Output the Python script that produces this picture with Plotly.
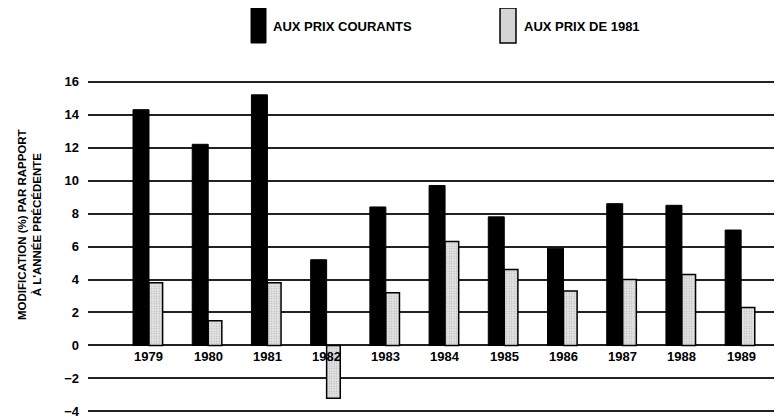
import plotly.graph_objects as go

years = ["1979", "1980", "1981", "1982", "1983", "1984", "1985", "1986", "1987", "1988", "1989"]
prix_courants = [14.3, 12.2, 15.2, 5.2, 8.4, 9.7, 7.8, 5.9, 8.6, 8.5, 7.0]
prix_1981 = [3.8, 1.5, 3.8, -3.2, 3.2, 6.3, 4.6, 3.3, 4.0, 4.3, 2.3]
y_ticks = [-4, -2, 0, 2, 4, 6, 8, 10, 12, 14, 16]
legend_labels = ["AUX PRIX COURANTS", "AUX PRIX DE 1981"]
y_title = "MODIFICATION (%) PAR RAPPORT<br>À L'ANNÉE PRÉCÉDENTE"

FONT = "Liberation Sans, Arial, Helvetica, sans-serif"
BOLD = dict(family=FONT, size=13, color="black", weight="bold")

fig = go.Figure()
fig.add_trace(go.Bar(
    x=years, y=prix_courants, name=legend_labels[0],
    offset=-0.27, width=0.27,
    marker=dict(color="black", line=dict(color="black", width=1)),
    showlegend=False,
))
fig.add_trace(go.Bar(
    x=years, y=prix_1981, name=legend_labels[1],
    offset=0.0, width=0.23,
    marker=dict(color="#d8d8d8", line=dict(color="black", width=1.5),
                pattern=dict(shape=".", fgcolor="#8a8a8a", bgcolor="#e6e6e6",
                             size=2.5, solidity=0.3)),
    showlegend=False,
))

annotations = []
for i, yr in enumerate(years):
    annotations.append(dict(x=i, y=0, xref="x", yref="y", text=yr, showarrow=False,
                            yanchor="top", yshift=-2, font=BOLD))

def py(wy):
    # window pixel -> paper y (figure shifted 8 px by page margin)
    return (410 - (wy - 8)) / 338

annotations.append(dict(x=-0.0836, y=py(224), xref="paper", yref="paper", text=y_title,
                        textangle=-90, showarrow=False, xanchor="center", yanchor="middle",
                        font=dict(family=FONT, size=11.5, color="black", weight="bold")))

annotations.append(dict(x=0.2637, y=py(26), xref="paper", yref="paper", text=legend_labels[0],
                        showarrow=False, xanchor="left", yanchor="middle", font=BOLD))
annotations.append(dict(x=0.6254, y=py(26), xref="paper", yref="paper", text=legend_labels[1],
                        showarrow=False, xanchor="left", yanchor="middle", font=BOLD))

shapes = [
    dict(type="rect", xref="paper", yref="paper", x0=0.2349, x1=0.2565, y0=py(43), y1=py(8),
         fillcolor="black", line=dict(color="black", width=1)),
    dict(type="rect", xref="paper", yref="paper", x0=0.5937, x1=0.6167, y0=py(43), y1=py(8),
         fillcolor="#d4d4d4", line=dict(color="black", width=1.5)),
]

fig.update_layout(
    width=774, height=410,
    margin=dict(l=80, r=0, t=72, b=0),
    paper_bgcolor="white", plot_bgcolor="white",
    barmode="overlay",
    font=dict(family=FONT, size=13, color="black"),
    annotations=annotations,
    shapes=shapes,
    xaxis=dict(type="category", range=[-1.03, 10.69], showticklabels=False,
               showgrid=False, zeroline=False, showline=False, ticks=""),
    yaxis=dict(range=[-4.4, 16.1], tickvals=y_ticks,
               ticktext=[str(v).replace("-", "−") for v in y_ticks],
               showgrid=True, gridcolor="#222222", gridwidth=1.5,
               zeroline=True, zerolinecolor="#222222", zerolinewidth=1.5,
               showline=False, ticks="", ticklabelstandoff=8, tickfont=BOLD,
               ticklabeloverflow="allow", automargin=False),
)

fig.write_html("out.html")
